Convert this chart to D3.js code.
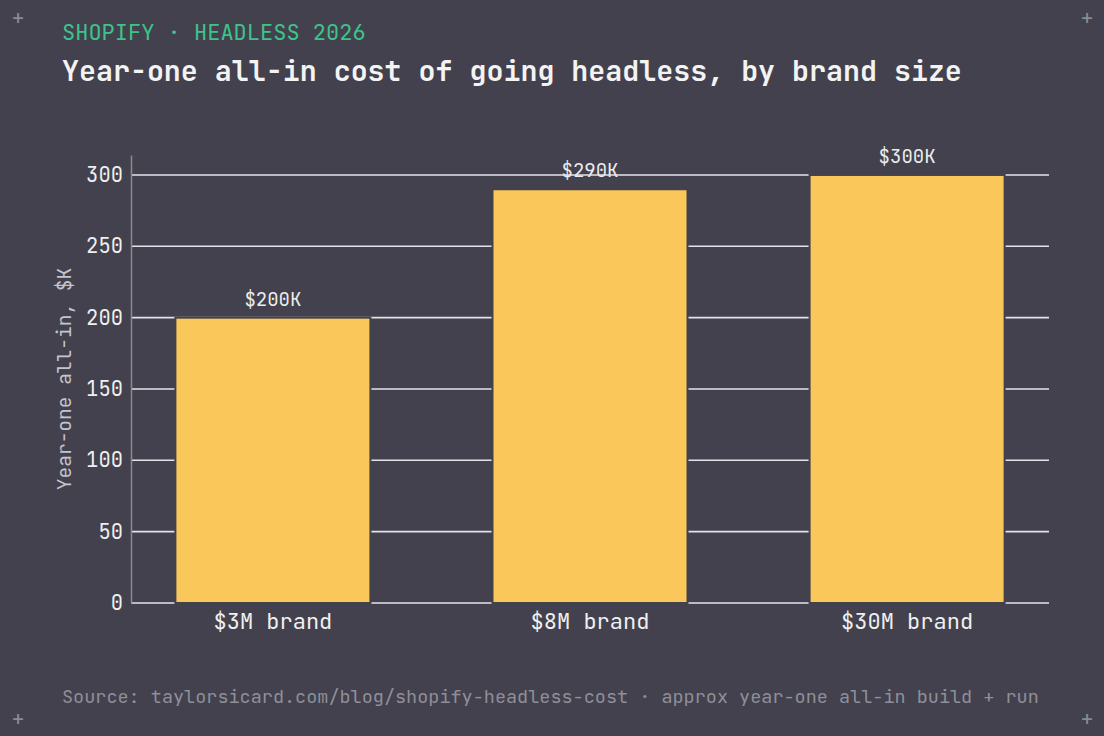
<!DOCTYPE html>
<html>
<head>
<meta charset="utf-8">
<script src="https://cdn.jsdelivr.net/npm/d3@7"></script>
<style>
  html, body { margin: 0; padding: 0; background: #42414d; }
  svg { display: block; }
  text { font-family: "JetBrains Mono", "DejaVu Sans Mono", monospace; }
</style>
</head>
<body>
<div id="chart"></div>
<script>
// data
var brands = ["$3M brand", "$8M brand", "$30M brand"];
var costs = [200, 290, 300];
var costLabels = ["$200K", "$290K", "$300K"];
var yTicks = [0, 50, 100, 150, 200, 250, 300];

var W = 1104, H = 736;
var margin = {top: 155, right: 55, bottom: 133, left: 131},
    width = W - margin.left - margin.right,
    height = H - margin.top - margin.bottom;

var root = d3.select("#chart")
  .append("svg")
    .attr("width", W)
    .attr("height", H);

root.append("rect").attr("width", W).attr("height", H).attr("fill", "#42414d");

// corner marks
[[18, 18], [1087, 18], [18, 719], [1087, 719]].forEach(function(p) {
  root.append("text")
    .attr("x", p[0]).attr("y", p[1])
    .attr("dy", "0.35em")
    .attr("text-anchor", "middle")
    .attr("font-size", 21)
    .attr("fill", "#8a8a94")
    .text("+");
});

// header
root.append("text")
  .attr("x", 62).attr("y", 40)
  .attr("font-size", 22)
  .attr("fill", "#3ec48a")
  .text("SHOPIFY · HEADLESS 2026");
root.append("text")
  .attr("x", 62).attr("y", 81)
  .attr("font-size", 28.3)
  .attr("font-weight", 600)
  .attr("fill", "#f3f3f3")
  .text("Year-one all-in cost of going headless, by brand size");

// footer
root.append("text")
  .attr("x", 62).attr("y", 703)
  .attr("font-size", 18.5)
  .attr("fill", "#8f8f99")
  .text("Source: taylorsicard.com/blog/shopify-headless-cost · approx year-one all-in build + run");

var svg = root.append("g")
  .attr("transform", "translate(" + margin.left + "," + margin.top + ")");

var x = d3.scaleBand()
  .domain(brands)
  .range([0, width])
  .paddingInner(0.385)
  .paddingOuter(0.14);

var y = d3.scaleLinear()
  .domain([0, 314])
  .range([height, 0]);

// bar value labels (under grid)
svg.append("g")
  .selectAll("text")
  .data(brands)
  .enter()
  .append("text")
    .attr("x", d => x(d) + x.bandwidth() / 2)
    .attr("y", (d, i) => y(costs[i]) - 12)
    .attr("text-anchor", "middle")
    .attr("font-size", 19)
    .attr("fill", "#ececec")
    .text((d, i) => costLabels[i]);

// gridlines
svg.append("g")
  .selectAll("line")
  .data(yTicks)
  .enter()
  .append("line")
    .attr("x1", 0).attr("x2", width)
    .attr("y1", d => y(d)).attr("y2", d => y(d))
    .attr("stroke", "#e4e4e8")
    .attr("stroke-width", 1.6);

// bars
svg.append("g")
  .selectAll("rect")
  .data(brands)
  .enter()
  .append("rect")
    .attr("x", d => x(d))
    .attr("y", (d, i) => y(costs[i]))
    .attr("width", x.bandwidth())
    .attr("height", (d, i) => height - y(costs[i]))
    .attr("fill", "#f9c75a")
    .attr("stroke", "#42414d")
    .attr("stroke-width", 2);

// y axis
var yAxis = svg.append("g")
  .call(d3.axisLeft(y).tickValues(yTicks).tickSize(0).tickPadding(8));
yAxis.select(".domain").attr("stroke", "#8a8a94").attr("stroke-width", 1.5);
yAxis.selectAll("text")
  .attr("font-size", 20.5)
  .attr("fill", "#efefef")
  .style("font-family", "\"JetBrains Mono\", \"DejaVu Sans Mono\", monospace");

// x axis labels
var xAxis = svg.append("g")
  .attr("transform", "translate(0," + height + ")")
  .call(d3.axisBottom(x).tickSize(0).tickPadding(10));
xAxis.select(".domain").remove();
xAxis.selectAll("text")
  .attr("font-size", 22)
  .attr("fill", "#efefef")
  .style("font-family", "\"JetBrains Mono\", \"DejaVu Sans Mono\", monospace");

// y axis title
svg.append("text")
  .attr("transform", "rotate(-90)")
  .attr("x", -height / 2)
  .attr("y", -67)
  .attr("dy", "0.35em")
  .attr("text-anchor", "middle")
  .attr("font-size", 19.5)
  .attr("fill", "#c4c4cc")
  .text("Year-one all-in, $K");
</script>
</body>
</html>
